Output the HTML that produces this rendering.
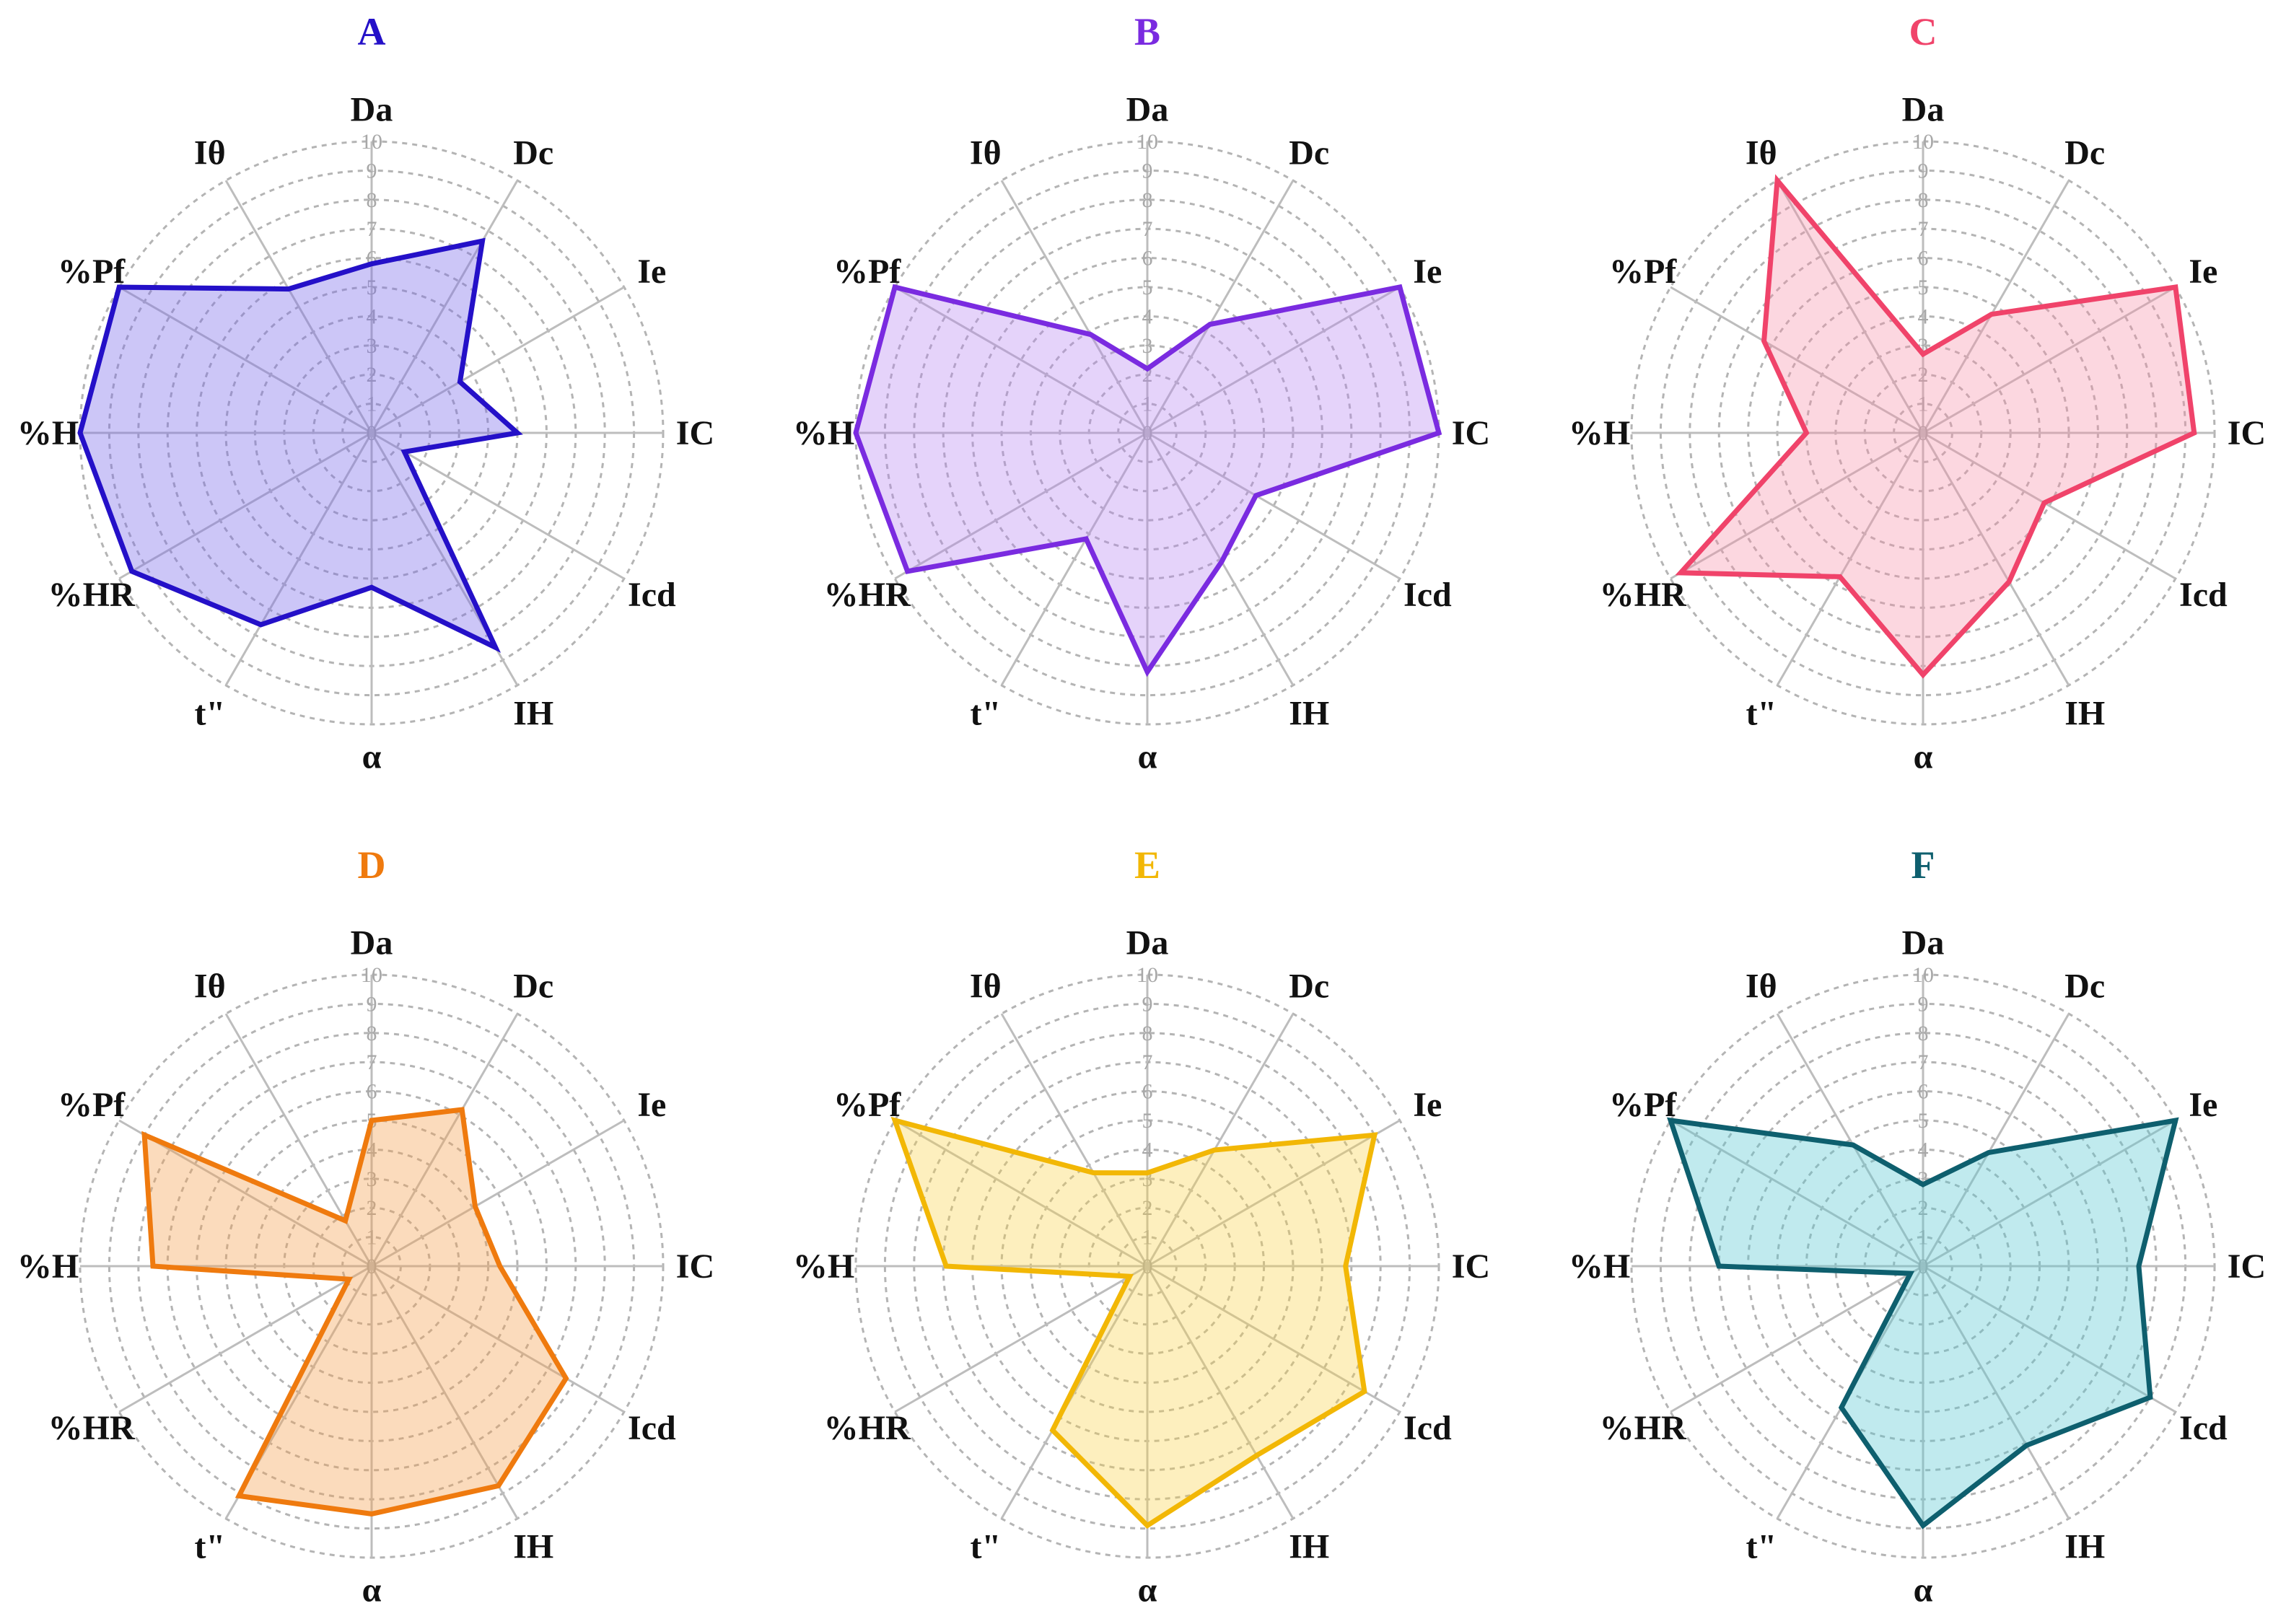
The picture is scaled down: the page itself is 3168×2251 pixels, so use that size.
<!DOCTYPE html>
<html><head><meta charset="utf-8">
<style>
html,body{margin:0;padding:0;background:#fff;}
svg{display:block;}
text{font-family:"Liberation Serif",serif;}
</style></head>
<body>
<svg id="chart" width="3168" height="2251" viewBox="0 0 3168 2251" xmlns="http://www.w3.org/2000/svg"></svg>
<script>
const axes = ["Da","Dc","Ie","IC","Icd","IH","α","t\"","%HR","%H","%Pf","Iθ"];
const ticks = [0,1,2,3,4,5,6,7,8,9,10];
const panelNames = ["A","B","C","D","E","F"];
const valuesA = [5.8,7.6,3.5,5.0,1.3,8.5,5.3,7.6,9.5,10,10,5.7];
const valuesB = [2.2,4.3,10,10,4.3,5.1,8.2,4.2,9.5,10,10,3.9];
const valuesC = [2.7,4.7,10,9.3,4.8,5.9,8.3,5.7,9.6,4.0,6.3,10];
const valuesD = [5.0,6.2,4.1,4.4,7.7,8.7,8.5,9.1,0.9,7.5,9.0,1.8];
const valuesE = [3.2,4.6,9.0,6.8,8.6,7.5,8.9,6.5,0.7,6.9,10,3.7];
const valuesF = [2.8,4.5,10,7.4,9.0,7.1,8.9,5.6,0.5,7.0,10,4.8];
const series = [valuesA,valuesB,valuesC,valuesD,valuesE,valuesF];
const strokes = ["#2410c8","#7a2be0","#f0436a","#ef7a0e","#f2b705","#0e5f6e"];
const fills = ["rgba(120,105,235,0.38)","rgba(180,130,240,0.35)","rgba(245,140,165,0.35)","rgba(245,160,80,0.38)","rgba(250,210,70,0.35)","rgba(90,200,210,0.38)"];
const centersX = [515,1590,2665];
const centersY = [600,1755];
const R = 404, maxV = 10;
const NS="http://www.w3.org/2000/svg";
const svg=document.getElementById('chart');
function mk(tag,attrs,parent){const e=document.createElementNS(NS,tag);for(const k in attrs)e.setAttribute(k,attrs[k]);(parent||svg).appendChild(e);return e;}
function rScale(v){return v/maxV*R;}
function pt(cx,cy,i,v){const a=i*2*Math.PI/axes.length;const r=rScale(v);return [cx+r*Math.sin(a),cy-r*Math.cos(a)];}
series.forEach((vals,p)=>{
  const cx=centersX[p%3], cy=centersY[Math.floor(p/3)];
  const g=mk('g',{});
  
  
  const t=mk('text',{x:cx,y:cy-538,'text-anchor':'middle','font-size':54,'font-weight':'bold',fill:strokes[p]},g);
  t.textContent=panelNames[p];
  
  
  ticks.slice(1).forEach(tv=>{
    const c=mk('circle',{cx:cx,cy:cy,r:rScale(tv),fill:'none',stroke:'#b4b4b4','stroke-width':3,'stroke-dasharray':'7 7'},g);
    
    
  });
  axes.forEach((a,i)=>{
    const [x,y]=pt(cx,cy,i,maxV);
    const l=mk('line',{x1:cx,y1:cy,x2:x,y2:y,stroke:'#bdbdbd','stroke-width':3},g);
    
    
    const [lx,ly]=pt(cx,cy,i,11.1);
    const lt=mk('text',{x:lx,y:ly+16,'text-anchor':'middle','font-size':48,'font-weight':'bold',fill:'#111'},g);
    lt.textContent=a;
    
    
  });
  ticks.forEach(tv=>{
    const tt=mk('text',{x:cx,y:cy-rScale(tv)+10,'text-anchor':'middle','font-size':30,fill:'#a8a8a8'},g);
    tt.textContent=tv;
    
    
  });
  const pts=vals.map((v,i)=>pt(cx,cy,i,v).join(',')).join(' ');
  const poly=mk('polygon',{points:pts,fill:fills[p],stroke:strokes[p],'stroke-width':7,'stroke-linejoin':'miter'},g);
  
  
});
</script>
</body></html>
